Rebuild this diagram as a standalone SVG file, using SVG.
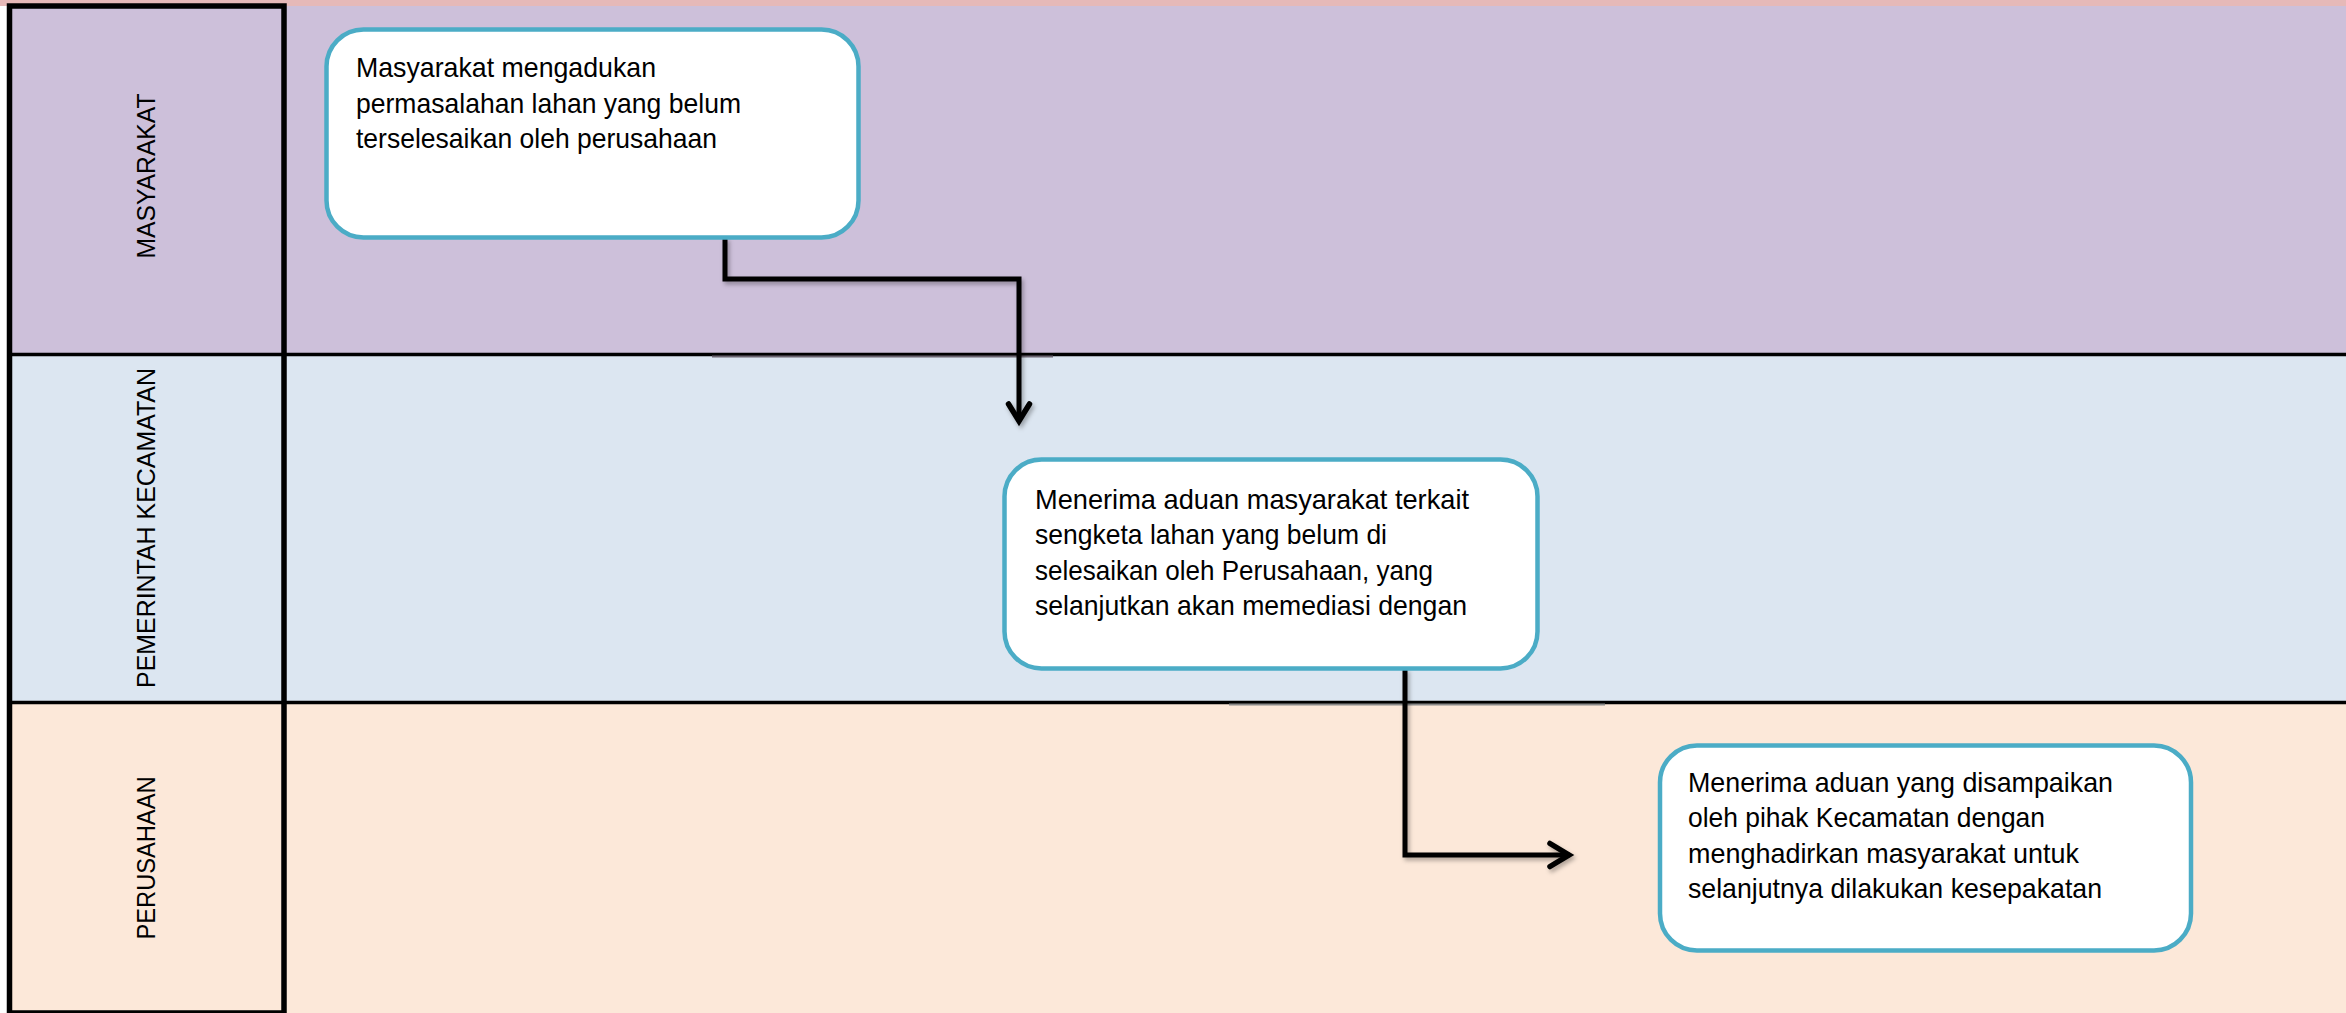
<svg xmlns="http://www.w3.org/2000/svg" width="2346" height="1013" viewBox="0 0 2346 1013">
<style>
.lane-label{font-family:"Liberation Sans",Arial,sans-serif;font-size:25px;fill:#000;text-anchor:middle}
.node-text{font-family:"Liberation Sans",Arial,sans-serif;font-size:28.5px;fill:#000}
.box{fill:#fff;stroke:#4BACC6;stroke-width:4.5}
.lane-line{stroke:#000;stroke-width:3.5}
.conn{fill:none;stroke:#000;stroke-width:5;stroke-linejoin:miter;stroke-linecap:square}
.head{fill:none;stroke:#000;stroke-width:5.5;stroke-linecap:round;stroke-linejoin:miter}
</style>
<defs>
<filter id="sh" x="-20%" y="-20%" width="140%" height="140%">
<feDropShadow dx="2" dy="3" stdDeviation="2" flood-color="#000" flood-opacity="0.3"/>
</filter>
</defs>
<g id="lanes">
<rect x="0" y="0" width="2346" height="6" fill="#E6B9B8"/>
<rect x="7" y="6" width="2339" height="349" fill="#CDC0DA"/>
<rect x="7" y="355" width="2339" height="348" fill="#DCE6F1"/>
<rect x="7" y="703" width="2339" height="310" fill="#FCE8D9"/>
<line class="lane-line" x1="7" y1="354.5" x2="2346" y2="354.5"/>
<line class="lane-line" x1="7" y1="702.5" x2="2346" y2="702.5"/>
<line x1="712" y1="356.5" x2="1053" y2="356.5" stroke="#6b6570" stroke-width="2"/>
<line x1="1229" y1="704.5" x2="1605" y2="704.5" stroke="#8a8a8a" stroke-width="2"/>
<rect x="9.5" y="6" width="274.5" height="1007" fill="none" stroke="#000" stroke-width="5.5"/>
</g>
<g id="lane-masyarakat">
<text class="lane-label" transform="translate(155,176) rotate(-90)" textLength="165" lengthAdjust="spacingAndGlyphs">MASYARAKAT</text>
</g>
<g id="lane-pemerintah">
<text class="lane-label" transform="translate(155,528) rotate(-90)" textLength="320" lengthAdjust="spacingAndGlyphs">PEMERINTAH KECAMATAN</text>
</g>
<g id="lane-perusahaan">
<text class="lane-label" transform="translate(155,858) rotate(-90)" textLength="163" lengthAdjust="spacingAndGlyphs">PERUSAHAAN</text>
</g>
<g id="connectors">
<g filter="url(#sh)">
<path class="conn" d="M725,240 V279 H1019 V419"/>
<path class="head" d="M1008.5,404 L1019,421 L1029.5,404"/>
</g>
<g filter="url(#sh)">
<path class="conn" d="M1405,671 V855 H1567"/>
<path class="head" d="M1550,843.5 L1569,855 L1550,866.5"/>
</g>
</g>
<g id="node1">
<rect class="box" x="326.5" y="29.5" width="532" height="208" rx="37" ry="37"/>
<text class="node-text" x="356" y="77" textLength="300" lengthAdjust="spacingAndGlyphs">Masyarakat mengadukan</text>
<text class="node-text" x="356" y="113" textLength="385" lengthAdjust="spacingAndGlyphs">permasalahan lahan yang belum</text>
<text class="node-text" x="356" y="148" textLength="361" lengthAdjust="spacingAndGlyphs">terselesaikan oleh perusahaan</text>
</g>
<g id="node2">
<rect class="box" x="1004.5" y="459.5" width="533" height="209" rx="37" ry="37"/>
<text class="node-text" x="1035" y="509" textLength="434" lengthAdjust="spacingAndGlyphs">Menerima aduan masyarakat terkait</text>
<text class="node-text" x="1035" y="544" textLength="352" lengthAdjust="spacingAndGlyphs">sengketa lahan yang belum di</text>
<text class="node-text" x="1035" y="580" textLength="398" lengthAdjust="spacingAndGlyphs">selesaikan oleh Perusahaan, yang</text>
<text class="node-text" x="1035" y="615" textLength="432" lengthAdjust="spacingAndGlyphs">selanjutkan akan memediasi dengan</text>
</g>
<g id="node3">
<rect class="box" x="1660" y="745.5" width="531" height="205" rx="37" ry="37"/>
<text class="node-text" x="1688" y="792" textLength="425" lengthAdjust="spacingAndGlyphs">Menerima aduan yang disampaikan</text>
<text class="node-text" x="1688" y="827" textLength="357" lengthAdjust="spacingAndGlyphs">oleh pihak Kecamatan dengan</text>
<text class="node-text" x="1688" y="863" textLength="391" lengthAdjust="spacingAndGlyphs">menghadirkan masyarakat untuk</text>
<text class="node-text" x="1688" y="898" textLength="414" lengthAdjust="spacingAndGlyphs">selanjutnya dilakukan kesepakatan</text>
</g>
</svg>
